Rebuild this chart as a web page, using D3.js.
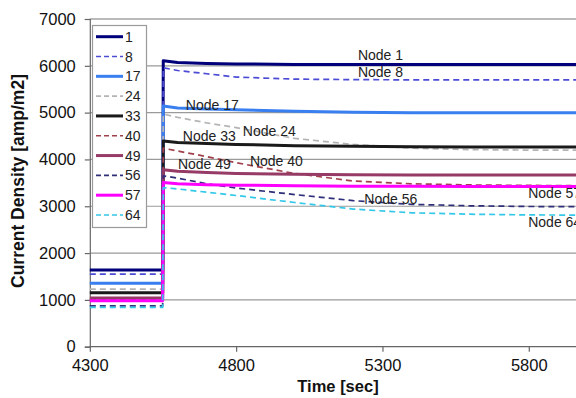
<!DOCTYPE html>
<html><head><meta charset="utf-8">
<script src="https://cdn.jsdelivr.net/npm/d3@7"></script>
<style>body{margin:0;background:#fff}svg{display:block;font-family:"Liberation Sans",Arial,sans-serif}</style>
</head><body><svg id="c" width="576" height="398"></svg>
<script>
// ---- data ----
const nodes = ["1","8","17","24","33","40","49","56","57","64"];
const times = [4300, 4549, 4551, 4600, 4700, 4800, 5000, 5200, 5400, 5600, 5800, 6000];
const node1  = [1640, 1640, 6110, 6070, 6050, 6040, 6030, 6030, 6030, 6030, 6030, 6030];
const node8  = [1550, 1550, 5960, 5900, 5830, 5760, 5715, 5705, 5700, 5700, 5700, 5700];
const node17 = [1355, 1355, 5140, 5100, 5080, 5060, 5030, 5010, 5000, 5000, 5000, 5000];
const node24 = [1230, 1230, 4970, 4900, 4780, 4680, 4450, 4320, 4240, 4210, 4200, 4200];
const node33 = [1155, 1155, 4395, 4360, 4340, 4320, 4295, 4280, 4270, 4265, 4265, 4265];
const node40 = [1000, 1000, 4240, 4180, 4060, 3930, 3700, 3540, 3480, 3455, 3445, 3440];
const node49 = [1040, 1040, 3780, 3750, 3720, 3700, 3685, 3675, 3670, 3670, 3670, 3670];
const node56 = [870, 870, 3650, 3600, 3480, 3390, 3250, 3120, 3040, 3010, 2995, 2990];
const node57 = [980, 980, 3505, 3480, 3460, 3450, 3440, 3430, 3425, 3420, 3420, 3420];
const node64 = [840, 840, 3400, 3370, 3300, 3230, 3080, 2940, 2860, 2830, 2815, 2810];
const seriesValues = [node1, node8, node17, node24, node33, node40, node49, node56, node57, node64];
const labelTexts = ["Node 1","Node 8","Node 17","Node 24","Node 33","Node 40","Node 49","Node 56","Node 57","Node 64"];
const labelTimes = [5216, 5216, 4628, 4823, 4618, 4847, 4601, 5238, 5798, 5798];
const labelValues = [6230, 5868, 5163, 4608, 4501, 3967, 3903, 3155, 3283, 2664];
const xTicks = [4300, 4800, 5300, 5800];
const yTicks = [0, 1000, 2000, 3000, 4000, 5000, 6000, 7000];

// ---- styles ----
const colors = ["#00007a","#4b4bd6","#3a7ff0","#b4b4b4","#1a1a1a","#a0404a","#963a66","#30307a","#ff00ff","#33c8e8"];
const dashed = [false,true,false,true,false,true,false,true,false,true];

const svg = d3.select("#c");
const L = 89.8, T = 19, B = 346.7;
const x = d3.scaleLinear().domain([4300, 6000]).range([L, L + 1700 * 0.29266]);
const y = d3.scaleLinear().domain([0, 7000]).range([B, T]);

// gridlines
svg.append("g").selectAll("line").data(yTicks.filter(d => d > 0 && d < 7000)).join("line")
  .attr("x1", L).attr("x2", 576).attr("y1", d => y(d)).attr("y2", d => y(d))
  .attr("stroke", "#9a9a9a").attr("stroke-width", 1.2);
svg.append("line").attr("x1", L).attr("x2", 576).attr("y1", y(7000)).attr("y2", y(7000))
  .attr("stroke", "#777").attr("stroke-width", 1.2);

// axes
const yAxis = d3.axisLeft(y).tickValues(yTicks).tickSize(5).tickPadding(9).tickFormat(d3.format("d"));
const gy = svg.append("g").attr("transform", `translate(${L},0)`).call(yAxis);
const xAxis = d3.axisBottom(x).tickValues(xTicks).tickSize(5).tickPadding(8).tickFormat(d3.format("d"));
const gx = svg.append("g").attr("transform", `translate(0,${B})`).call(xAxis);
[gx, gy].forEach(g => {
  g.select(".domain").attr("stroke", "#666").attr("stroke-width", 1.2);
  g.selectAll(".tick line").attr("stroke", "#666").attr("stroke-width", 1.2);
  g.selectAll(".tick text").attr("font-size", 16.5).attr("fill", "#111")
    .attr("font-family", '"Liberation Sans",Arial,sans-serif');
});
gx.select(".domain").attr("d", `M${L},0H576`);

// series
const line = d3.line().x(d => x(d[0])).y(d => y(d[1]));
const plot = svg.append("g");
seriesValues.forEach((vals, i) => {
  plot.append("path").datum(times.map((t, j) => [t, vals[j]]))
    .attr("d", line).attr("fill", "none").attr("stroke", colors[i])
    .attr("stroke-width", dashed[i] ? 1.7 : 3)
    .attr("stroke-dasharray", dashed[i] ? "6,4" : null)
    .attr("stroke-linejoin", "round");
});

// labels
svg.append("g").selectAll("text").data(labelTexts).join("text")
  .attr("x", (d, i) => x(labelTimes[i])).attr("y", (d, i) => y(labelValues[i]))
  .attr("dy", "0.36em").attr("font-size", 14).attr("fill", "#222").text(d => d);

// legend
const lg = svg.append("g");
lg.append("rect").attr("x", 92.5).attr("y", 25.5).attr("width", 54).attr("height", 202)
  .attr("fill", "#fff").attr("stroke", "#9a9a9a").attr("stroke-width", 1.2);
const ly = d3.scalePoint().domain(nodes).range([36.7, 215]);
nodes.forEach((n, i) => {
  lg.append("line").attr("x1", 96).attr("x2", 123).attr("y1", ly(n)).attr("y2", ly(n))
    .attr("stroke", colors[i]).attr("stroke-width", dashed[i] ? 1.6 : 3)
    .attr("stroke-dasharray", dashed[i] ? "5,3" : null);
  lg.append("text").attr("x", 125).attr("y", ly(n)).attr("dy", "0.36em")
    .attr("font-size", 14).attr("fill", "#222").text(n);
});

// titles
svg.append("text").attr("x", 338).attr("y", 392).attr("text-anchor", "middle")
  .attr("font-size", 16.5).attr("font-weight", "bold").attr("fill", "#111").text("Time [sec]");
svg.append("text").attr("transform", "translate(24,181) rotate(-90)").attr("text-anchor", "middle")
  .attr("font-size", 17.5).attr("font-weight", "bold").attr("fill", "#111").text("Current Density [amp/m2]");
</script></body></html>
